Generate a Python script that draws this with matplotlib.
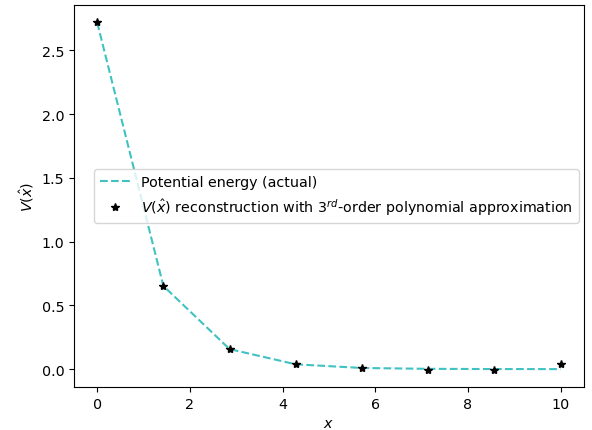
import numpy as np
import matplotlib
matplotlib.use("Agg")
import matplotlib.pyplot as plt

plt.rcParams['font.size'] = 10.3

x_vals = [0.0, 1.4286, 2.8571, 4.2857, 5.7143, 7.1429, 8.5714, 10.0]
v_actual = [2.718, 0.652, 0.157, 0.0376, 0.0090, 0.0022, 0.0005, 0.0001]
v_recon = [2.718, 0.652, 0.157, 0.040, 0.006, -0.004, -0.004, 0.040]

fig = plt.figure(figsize=(5.92, 4.31), dpi=100)
ax = fig.add_axes([0.125, 0.0998, 0.861, 0.886])

ax.plot(x_vals, v_actual, '--', color='#40c2c2', linewidth=1.5,
        label='Potential energy (actual)')
ax.plot(x_vals, v_recon, '*', color='black', markersize=6, linestyle='none',
        label=r'$V(\hat{x})$ reconstruction with 3$^{rd}$-order polynomial approximation')

ax.set_xlabel(r'$x$')
ax.set_ylabel(r'$V(\hat{x})$')
ax.legend(loc='center right', borderaxespad=0.35, handlelength=2.1)

fig.savefig('out.png', dpi=100)
